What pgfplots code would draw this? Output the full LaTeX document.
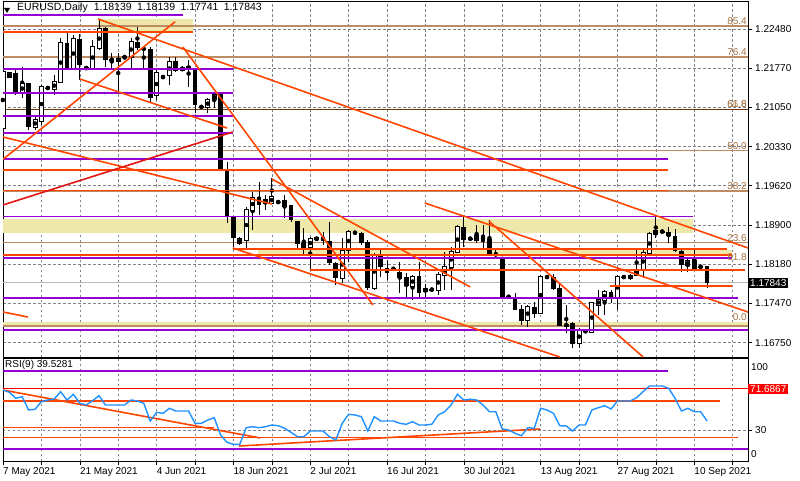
\documentclass[border=0pt]{standalone}
\usepackage{fontspec}
\setmainfont{Liberation Sans}
\usepackage{pgfplots}
\usepackage{pgfplotstable}
\pgfplotsset{compat=1.18}
\definecolor{ored}{RGB}{255,69,0}
\definecolor{dviolet}{RGB}{148,0,211}
\definecolor{fibtan}{RGB}{190,140,100}
\definecolor{fibdark}{RGB}{110,55,10}
\definecolor{khaki}{RGB}{238,232,170}
\definecolor{gridgray}{RGB}{130,130,140}
\definecolor{rsiblue}{RGB}{30,144,255}
\definecolor{redline}{RGB}{225,20,20}
\definecolor{fibtext}{RGB}{165,115,65}
\definecolor{pricegray}{RGB}{185,185,185}

\pgfplotstableread{
i O H L C
0 1.20674 1.21731 1.20635 1.21695
1 1.21603 1.21695 1.21585 1.21676
3 1.21311 1.21786 1.21219 1.21475
5 1.20692 1.20873 1.20635 1.20818
6 1.20799 1.21456 1.20727 1.21419
8 1.21383 1.21640 1.21274 1.21512
9 1.21512 1.22316 1.21493 1.22225
11 1.21768 1.22371 1.21731 1.22298
14 1.21768 1.22279 1.21731 1.22152
15 1.22133 1.22645 1.22097 1.22480
20 1.21969 1.22316 1.21768 1.22243
24 1.21274 1.21731 1.21183 1.21676
26 1.21640 1.21969 1.21456 1.21877
28 1.21731 1.21800 1.21713 1.21768
29 1.21770 1.21914 1.21420 1.21786
32 1.21055 1.21219 1.20946 1.21183
33 1.21201 1.21329 1.21037 1.21274
37 1.18571 1.18681 1.18535 1.18644
38 1.18626 1.19229 1.18480 1.19174
39 1.19174 1.19503 1.18808 1.19393
41 1.19302 1.19448 1.19174 1.19357
42 1.19302 1.19759 1.19302 1.19412
48 1.18498 1.18681 1.18078 1.18644
49 1.18640 1.18680 1.18610 1.18660
53 1.17932 1.18663 1.17841 1.18425
54 1.18443 1.18808 1.18224 1.18772
58 1.17749 1.18389 1.17713 1.18352
64 1.17786 1.17987 1.17530 1.17950
66 1.17694 1.17822 1.17585 1.17731
68 1.17713 1.18042 1.17621 1.17987
69 1.17987 1.18407 1.17713 1.18133
70 1.18133 1.18498 1.17713 1.18407
71 1.18407 1.18900 1.18389 1.18863
74 1.18626 1.18900 1.18571 1.18699
82 1.17164 1.17438 1.17037 1.17402
84 1.17292 1.17987 1.17292 1.17950
90 1.16744 1.17019 1.16653 1.16982
92 1.16945 1.17493 1.16927 1.17475
93 1.17438 1.17713 1.17256 1.17530
94 1.17530 1.17713 1.17256 1.17676
96 1.17567 1.17987 1.17347 1.17950
98 1.17932 1.18005 1.17895 1.17968
99 1.17987 1.18462 1.17968 1.18078
100 1.18078 1.18462 1.17932 1.18389
101 1.18389 1.18772 1.18352 1.18736
102 1.18736 1.19046 1.18663 1.18790
107 1.18169 1.18297 1.18042 1.18243
}\bull

\pgfplotstableread{
i O H L C
2 1.21676 1.21768 1.21274 1.21311
4 1.21493 1.21493 1.20635 1.20692
7 1.21403 1.21430 1.21380 1.21401
10 1.22225 1.22425 1.21731 1.21768
12 1.22298 1.22389 1.21547 1.21823
13 1.21772 1.21800 1.21730 1.21770
16 1.22499 1.22517 1.21786 1.21914
17 1.21922 1.22042 1.21731 1.21920
18 1.21951 1.22042 1.21311 1.21896
19 1.21972 1.21990 1.21930 1.21970
21 1.22243 1.22517 1.22097 1.22133
22 1.22133 1.22152 1.21768 1.22100
23 1.22115 1.22152 1.21146 1.21238
25 1.21602 1.21630 1.21580 1.21600
27 1.21896 1.21969 1.21695 1.21731
30 1.21768 1.21768 1.20946 1.21091
31 1.21057 1.21080 1.21040 1.21055
34 1.21311 1.21329 1.19905 1.19905
35 1.19905 1.20051 1.18936 1.19046
36 1.19046 1.19046 1.18498 1.18663
40 1.19412 1.19686 1.19083 1.19266
43 1.19322 1.19340 1.19300 1.19320
44 1.19357 1.19448 1.19028 1.19229
45 1.19266 1.19266 1.18955 1.18991
46 1.18973 1.18973 1.18480 1.18571
47 1.18571 1.18845 1.18352 1.18498
50 1.18663 1.18772 1.18535 1.18626
51 1.18608 1.18955 1.18169 1.18206
52 1.18206 1.18224 1.17804 1.17932
55 1.18762 1.18780 1.18740 1.18760
56 1.18754 1.18772 1.18535 1.18590
57 1.18590 1.18626 1.17713 1.17767
59 1.18352 1.18480 1.17950 1.18133
60 1.18114 1.18261 1.17895 1.18023
61 1.18102 1.18120 1.18080 1.18100
62 1.18042 1.18224 1.17658 1.17950
63 1.17950 1.18023 1.17585 1.17804
65 1.17968 1.18224 1.17585 1.17676
67 1.17722 1.17740 1.17700 1.17720
72 1.18863 1.19046 1.18498 1.18626
73 1.18652 1.18670 1.18630 1.18650
75 1.18699 1.18900 1.18480 1.18608
76 1.18644 1.18991 1.18334 1.18352
77 1.18362 1.18440 1.18300 1.18360
78 1.18315 1.18315 1.17567 1.17585
79 1.17592 1.17610 1.17570 1.17590
80 1.17585 1.17658 1.17347 1.17365
81 1.17365 1.17438 1.17073 1.17164
83 1.17402 1.17493 1.17201 1.17292
85 1.17952 1.17970 1.17930 1.17950
86 1.17950 1.18005 1.17713 1.17749
87 1.17749 1.17841 1.17073 1.17073
88 1.17091 1.17438 1.16927 1.17055
89 1.17109 1.17128 1.16653 1.16744
91 1.16962 1.16980 1.16940 1.16960
95 1.17676 1.17713 1.17475 1.17567
97 1.17952 1.17970 1.17930 1.17950
103 1.18782 1.18800 1.18760 1.18780
104 1.18772 1.18863 1.18571 1.18699
105 1.18699 1.18827 1.18407 1.18443
106 1.18425 1.18462 1.18042 1.18169
108 1.18261 1.18462 1.18078 1.18114
109 1.18142 1.18150 1.18120 1.18140
110 1.18139 1.18139 1.17741 1.17843
}\bear

\pgfplotstableread{
i r
0 70.5
1 68.2
2 62.2
3 63.8
4 50.5
5 51.2
6 58.8
7 60.5
8 61.5
9 68.8
10 60.5
11 66.2
12 57.2
13 55.5
14 59.8
15 64.8
16 55.5
17 55.5
18 55.5
19 55.5
20 60.5
21 59.5
22 57.2
23 39.5
24 48.2
25 47.2
26 52.2
27 49.5
28 49.5
29 49.5
30 37.2
31 37.2
32 40.5
33 42.8
34 25.5
35 18.2
36 16.2
37 16.2
38 32.8
39 33.8
40 32.8
41 33.8
42 35.5
43 34.8
44 32.2
45 28.2
46 23.8
47 23.8
48 29.5
49 29.5
50 29.5
51 23.8
52 20.5
53 37.2
54 46.2
55 45.5
56 43.8
57 29.5
58 43.8
59 39.5
60 39.5
61 39.5
62 37.2
63 36.2
64 38.8
65 35.5
66 35.5
67 36.2
68 45.5
69 48.8
70 55.5
71 66.2
72 60.5
73 61.2
74 60.5
75 55.5
76 48.8
77 48.8
78 31.5
79 30.5
80 27.2
81 24.8
82 32.8
83 32.2
84 52.2
85 50.5
86 47.2
87 34.8
88 34.5
89 29.5
90 35.5
91 35.5
92 50.5
93 52.8
94 54.8
95 51.5
96 59.5
97 59.5
98 59.5
99 62.8
100 68.8
101 74.5
102 74.5
103 74.5
104 72.2
105 62.2
106 49.5
107 52.2
108 48.8
109 48.8
110 39.53
}\rsi

\pgfplotsset{
  pur/.style={dviolet, line width=1.6pt, forget plot},
  org/.style={ored, line width=1.5pt, forget plot},
  fib/.style={fibtan, line width=1.1pt, forget plot},
  trend/.style={ored, line width=1.6pt, forget plot},
  band/.style={fill=khaki, draw=none, forget plot},
}
\tikzset{
  flab/.style={anchor=south east, inner sep=1pt, text=fibtext, font=\fontsize{10}{12}\selectfont},
}

\begin{document}
\begin{tikzpicture}
\path[use as bounding box] (0pt,0pt) rectangle (800pt,480pt);

% ---------------- main price panel ----------------
\begin{axis}[
  at={(3pt,123pt)}, anchor=south west, scale only axis,
  width=745pt, height=356pt,
  xmin=0, xmax=116.4, ymin=1.16489, ymax=1.22992,
  axis line style={black, line width=0.8pt},
  no markers,
  xtick={0,6,...,114}, xticklabels={}, xtick style={draw=none},
  ytick={1.16750,1.17470,1.18180,1.18900,1.19620,1.20330,1.21050,1.21770,1.22480},
  ytick pos=right, yticklabel pos=right, tick align=outside, major tick length=4pt,
  ytick style={black, line width=0.6pt},
  yticklabel style={anchor=west, inner sep=0pt, xshift=3pt, font=\fontsize{10}{12}\selectfont,
    /pgf/number format/fixed, /pgf/number format/fixed zerofill,
    /pgf/number format/precision=5, /pgf/number format/assume math mode=true},
  grid=major, major grid style={gridgray, dash pattern=on 2.5pt off 2.5pt, line width=0.6pt},
  clip mode=individual,
]
% bands
\addplot[band] coordinates {(14.8,1.22425) (29.7,1.22425) (29.7,1.22663) (14.8,1.22663)};
\addplot[band] coordinates {(0,1.18754) (107.8,1.18754) (107.8,1.19010) (0,1.19010)};
\addplot[band] coordinates {(39.8,1.18334) (113.9,1.18334) (113.9,1.18443) (39.8,1.18443)};
\addplot[band] coordinates {(0,1.17037) (116.4,1.17037) (116.4,1.17128) (0,1.17128)};
% fibonacci levels
\addplot[fib] coordinates {(0,1.22535) (116.4,1.22535)};
\addplot[fib] coordinates {(0,1.21969) (116.4,1.21969)};
\addplot[fibdark, line width=1.5pt, forget plot] coordinates {(0,1.21010) (116.4,1.21010)};
\addplot[fib] coordinates {(0,1.20261) (116.4,1.20261)};
\addplot[fib] coordinates {(0,1.19521) (116.4,1.19521)};
\addplot[fib] coordinates {(0,1.18577) (116.4,1.18577)};
\addplot[fib] coordinates {(0,1.17055) (116.4,1.17055)};
% current price line
\addplot[pricegray, line width=1pt, forget plot] coordinates {(0,1.17843) (116.4,1.17843)};

% candles: wicks
\addplot[only marks, mark=none, forget plot, error bars/.cd, y dir=both, y explicit, error mark=none,
  error bar style={draw=black, solid, line width=1pt}]
  table[x=i, y expr={(\thisrow{H}+\thisrow{L})/2}, y error expr={(\thisrow{H}-\thisrow{L})/2}] {\bull};
\addplot[only marks, mark=none, forget plot, error bars/.cd, y dir=both, y explicit, error mark=none,
  error bar style={draw=black, solid, line width=1pt}]
  table[x=i, y expr={(\thisrow{H}+\thisrow{L})/2}, y error expr={(\thisrow{H}-\thisrow{L})/2}] {\bear};
% bear bodies
\addplot[only marks, mark=none, forget plot, error bars/.cd, y dir=both, y explicit, error mark=none,
  error bar style={draw=black, solid, line width=4.8pt}]
  table[x=i, y expr={(\thisrow{O}+\thisrow{C})/2}, y error expr={(\thisrow{O}-\thisrow{C})/2+0.00008}] {\bear};
% bull bodies (outline + white inside)
\addplot[only marks, mark=none, forget plot, error bars/.cd, y dir=both, y explicit, error mark=none,
  error bar style={draw=black, solid, line width=5pt}]
  table[x=i, y expr={(\thisrow{O}+\thisrow{C})/2}, y error expr={(\thisrow{C}-\thisrow{O})/2+0.00012}] {\bull};
\addplot[only marks, mark=none, forget plot, error bars/.cd, y dir=both, y explicit, error mark=none,
  error bar style={draw=white, solid, line width=3pt}]
  table[x=i, y expr={(\thisrow{O}+\thisrow{C})/2}, y error expr={(\thisrow{C}-\thisrow{O})/2-0.00004}] {\bull};

% purple horizontal lines
\addplot[pur] coordinates {(0,1.22736) (28.1,1.22736)};
\addplot[pur] coordinates {(0,1.21750) (35.9,1.21750)};
\addplot[pur] coordinates {(0,1.21311) (35.9,1.21311)};
\addplot[pur] coordinates {(0,1.20891) (35.9,1.20891)};
\addplot[pur] coordinates {(0,1.20581) (35.9,1.20581)};
\addplot[pur] coordinates {(0,1.20106) (103.9,1.20106)};
\addplot[pur] coordinates {(0,1.19055) (107.8,1.19055)};
\addplot[pur] coordinates {(0,1.18297) (113.9,1.18297)};
\addplot[pur] coordinates {(0,1.17567) (114.8,1.17567)};
\addplot[pur] coordinates {(0,1.16980) (116.4,1.16980)};
% orange horizontal lines
\addplot[org] coordinates {(0,1.22425) (29.7,1.22425)};
\addplot[org] coordinates {(0,1.19905) (103.9,1.19905)};
\addplot[org] coordinates {(0,1.19527) (103.9,1.19527)};
\addplot[org] coordinates {(35.9,1.18462) (113.1,1.18462)};
\addplot[org] coordinates {(0,1.18352) (113.9,1.18352)};
\addplot[org] coordinates {(48,1.18078) (115.9,1.18078)};
\addplot[org] coordinates {(94.8,1.17786) (113.9,1.17786)};
% trend lines
\addplot[trend] coordinates {(14.84,1.22663) (116.4,1.18480)};
\addplot[trend] coordinates {(0,1.20100) (26.9,1.22614)};
\addplot[trend] coordinates {(28.1,1.22152) (57.8,1.17439)};
\addplot[trend] coordinates {(42.0,1.19740) (73.0,1.17768)};
\addplot[trend] coordinates {(0,1.20508) (42.0,1.19284)};
\addplot[trend] coordinates {(12.0,1.21567) (35.0,1.20672)};
\addplot[trend] coordinates {(0,1.17311) (3.9,1.17220)};
\addplot[trend] coordinates {(35.9,1.18480) (87.0,1.16489)};
\addplot[trend] coordinates {(65.9,1.19302) (116.4,1.17311)};
\addplot[trend] coordinates {(75.9,1.18973) (100,1.16489)};
\addplot[redline, line width=1.6pt, forget plot] coordinates {(0,1.19266) (35.9,1.20599)};

% fibonacci labels
\node[flab] at (axis cs:116.4,1.22535) {85.4};
\node[flab] at (axis cs:116.4,1.21969) {76.4};
\node[flab] at (axis cs:116.4,1.21028) {61.8};
\node[flab, opacity=0.6] at (axis cs:116.4,1.21028) {66.6};
\node[flab] at (axis cs:116.4,1.20261) {50.0};
\node[flab] at (axis cs:116.4,1.19521) {38.2};
\node[flab] at (axis cs:116.4,1.18577) {23.6};
\node[flab] at (axis cs:116.4,1.18224) {61.8};
\node[flab] at (axis cs:116.4,1.17128) {0.0};
% current price box
\node[anchor=west, fill=black, text=white, inner xsep=2pt, inner ysep=1.5pt, font=\fontsize{10}{12}\selectfont]
  at (axis cs:116.4,1.17843) {1.17843};
\end{axis}

% ---------------- RSI panel ----------------
\begin{axis}[
  at={(3pt,19pt)}, anchor=south west, scale only axis,
  width=745pt, height=103pt,
  xmin=0, xmax=116.4, ymin=-0.5, ymax=102.5,
  axis line style={black, line width=0.8pt},
  no markers,
  xtick={0,6,...,114},
  xticklabels={7 May 2021,,21 May 2021,,4 Jun 2021,,18 Jun 2021,,2 Jul 2021,,16 Jul 2021,,30 Jul 2021,,13 Aug 2021,,27 Aug 2021,,10 Sep 2021,},
  xtick pos=bottom, tick align=outside, major tick length=4pt,
  xtick style={black, line width=0.6pt}, ytick style={black, line width=0.6pt},
  xticklabel style={anchor=north west, inner sep=0pt, yshift=-2pt, font=\fontsize{10}{12}\selectfont},
  ytick={30}, ytick pos=right, yticklabel pos=right,
  yticklabel style={anchor=west, inner sep=0pt, xshift=3pt, font=\fontsize{10}{12}\selectfont,
    /pgf/number format/assume math mode=true},
  extra y ticks={6.5,93.5}, extra y tick labels={0,100},
  extra y tick style={grid=none, major tick length=0pt},
  grid=major, major grid style={gridgray, dash pattern=on 2.5pt off 2.5pt, line width=0.6pt},
  clip mode=individual,
]
\addplot[pur] coordinates {(0,89.5) (103.9,89.5)};
\addplot[pur] coordinates {(0,11.5) (116.4,11.5)};
\addplot[red, line width=1pt, forget plot] coordinates {(0,71.6867) (116.4,71.6867)};
\addplot[org] coordinates {(0,59.5) (112,59.5)};
\addplot[org] coordinates {(0,32.8) (33,32.8)};
\addplot[org] coordinates {(0,22.8) (114.8,22.8)};
\addplot[trend] coordinates {(0,70.5) (40.2,22.5)};
\addplot[trend] coordinates {(36.9,14.5) (83.9,31.5)};
\addplot[rsiblue, line width=1.4pt] table[x=i, y=r] {\rsi};
\node[anchor=west, fill=red, text=white, inner xsep=2pt, inner ysep=1.5pt, font=\fontsize{10}{12}\selectfont]
  at (axis cs:116.4,71.6867) {71.6867};
\end{axis}

% titles
\fill (4pt,472pt) -- (10pt,472pt) -- (7pt,467pt) -- cycle;
\node[anchor=west, inner sep=0pt, font=\fontsize{10.5}{12}\selectfont] at (17pt,472pt)
  {EURUSD,Daily\hspace{6pt}1.18139\hspace{2.5pt} 1.18139\hspace{2.5pt} 1.17741\hspace{2.5pt} 1.17843};
\node[anchor=west, inner sep=0pt, font=\fontsize{10}{12}\selectfont] at (5pt,115pt) {RSI(9) 39.5281};
\end{tikzpicture}
\end{document}
